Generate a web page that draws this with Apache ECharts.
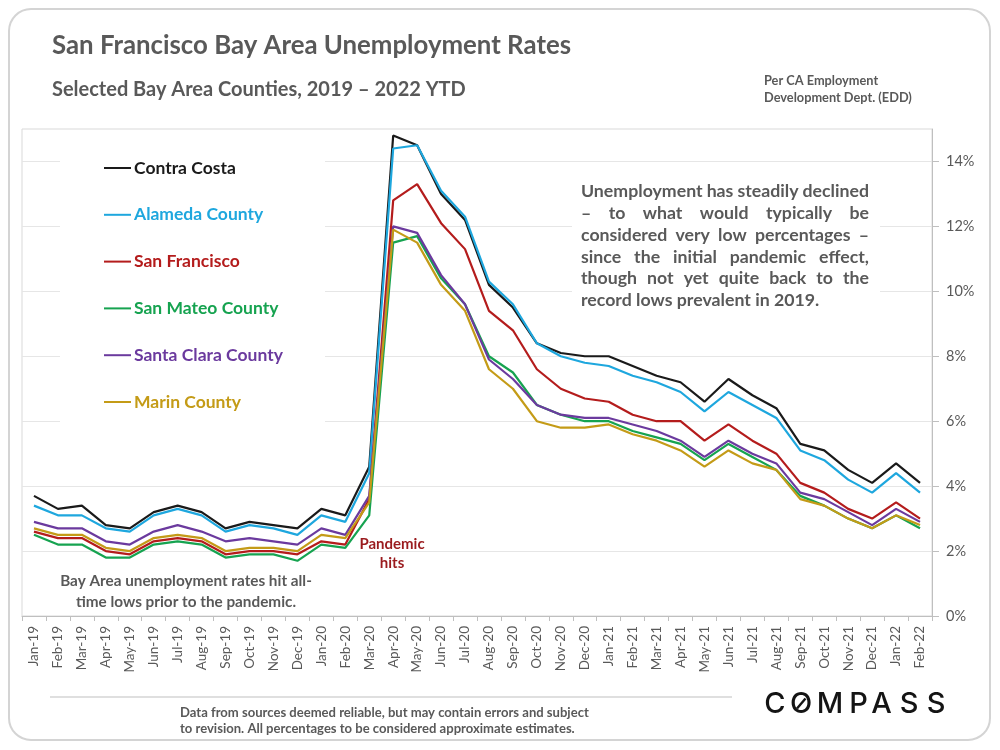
<!DOCTYPE html>
<html>
<head>
<meta charset="utf-8">
<script src="https://cdn.jsdelivr.net/npm/echarts@6/dist/echarts.min.js"></script>
<style>
html,body{margin:0;padding:0;background:#fff;}
#chart{width:1000px;height:750px;}
</style>
</head>
<body>
<div id="chart"></div>
<script>
const months = ['Jan-19','Feb-19','Mar-19','Apr-19','May-19','Jun-19','Jul-19','Aug-19','Sep-19','Oct-19','Nov-19','Dec-19',
'Jan-20','Feb-20','Mar-20','Apr-20','May-20','Jun-20','Jul-20','Aug-20','Sep-20','Oct-20','Nov-20','Dec-20',
'Jan-21','Feb-21','Mar-21','Apr-21','May-21','Jun-21','Jul-21','Aug-21','Sep-21','Oct-21','Nov-21','Dec-21',
'Jan-22','Feb-22'];

const contraCosta = [3.7,3.3,3.4,2.8,2.7,3.2,3.4,3.2,2.7,2.9,2.8,2.7, 3.3,3.1,4.6,14.8,14.5,13.0,12.2,10.2,9.5,8.4,8.1,8.0, 8.0,7.7,7.4,7.2,6.6,7.3,6.8,6.4,5.3,5.1,4.5,4.1, 4.7,4.1];
const alameda     = [3.4,3.1,3.1,2.7,2.6,3.1,3.3,3.1,2.6,2.8,2.7,2.5, 3.1,2.9,4.4,14.4,14.5,13.1,12.3,10.3,9.6,8.4,8.0,7.8, 7.7,7.4,7.2,6.9,6.3,6.9,6.5,6.1,5.1,4.8,4.2,3.8, 4.4,3.8];
const sanFrancisco= [2.6,2.4,2.4,2.0,1.9,2.3,2.4,2.3,1.9,2.0,2.0,1.9, 2.3,2.2,3.6,12.8,13.3,12.1,11.3,9.4,8.8,7.6,7.0,6.7, 6.6,6.2,6.0,6.0,5.4,5.9,5.4,5.0,4.1,3.8,3.3,3.0, 3.5,3.0];
const sanMateo    = [2.5,2.2,2.2,1.8,1.8,2.2,2.3,2.2,1.8,1.9,1.9,1.7, 2.2,2.1,3.1,11.5,11.7,10.4,9.6,8.0,7.5,6.5,6.2,6.0, 6.0,5.7,5.5,5.3,4.8,5.3,4.9,4.5,3.7,3.4,3.0,2.7, 3.1,2.7];
const santaClara  = [2.9,2.7,2.7,2.3,2.2,2.6,2.8,2.6,2.3,2.4,2.3,2.2, 2.7,2.5,3.7,12.0,11.8,10.5,9.6,7.9,7.3,6.5,6.2,6.1, 6.1,5.9,5.7,5.4,4.9,5.4,5.0,4.7,3.8,3.6,3.2,2.8, 3.3,2.9];
const marin       = [2.7,2.5,2.5,2.1,2.0,2.4,2.5,2.4,2.0,2.1,2.1,2.0, 2.5,2.4,3.5,11.9,11.5,10.2,9.4,7.6,7.0,6.0,5.8,5.8, 5.9,5.6,5.4,5.1,4.6,5.1,4.7,4.5,3.6,3.4,3.0,2.7, 3.1,2.8];

const seriesNames = ['Contra Costa','Alameda County','San Francisco','San Mateo County','Santa Clara County','Marin County'];
const seriesData = [contraCosta, alameda, sanFrancisco, sanMateo, santaClara, marin];
const seriesColors = ['#1a1a1a','#1ea7de','#b41c1c','#16a350','#6b3a9e','#c49b17'];
const yTicks = [0,2,4,6,8,10,12,14];

const FONT = 'Lato, "Open Sans", sans-serif';
const GREY = '#595959';

const mctx = document.createElement('canvas').getContext('2d');
function measure(text, size, weight){ mctx.font = weight + ' ' + size + 'px ' + FONT; return mctx.measureText(text).width; }
function fit(text, weight, target){ const w = measure(text, 100, weight); return 100 * target / w; }

const graphics = [];
// outer card
graphics.push({type:'rect', shape:{x:9,y:9,width:981,height:731,r:22}, style:{fill:'none',stroke:'#d4d4d4',lineWidth:2}, z:0, silent:true});
// white boxes behind legend and annotation
graphics.push({type:'rect', shape:{x:60,y:135,width:265,height:315}, style:{fill:'#fff'}, z:1, silent:true});
graphics.push({type:'rect', shape:{x:572,y:172,width:308,height:146}, style:{fill:'#fff'}, z:1, silent:true});

function addText(text, x, y, size, weight, color, align){
  graphics.push({type:'text', z:10, silent:true, style:{text:text, x:x, y:y, font: weight+' '+size.toFixed(2)+'px '+FONT, fill:color, textAlign:align||'left', textVerticalAlign:'middle'}});
}
// titles
addText('San Francisco Bay Area Unemployment Rates', 52, 46, fit('San Francisco Bay Area Unemployment Rates','bold',519), 'bold', GREY);
addText('Selected Bay Area Counties, 2019 \u2013 2022 YTD', 52, 90, fit('Selected Bay Area Counties, 2019 \u2013 2022 YTD','bold',414), 'bold', GREY);
const perSize = fit('Development Dept. (EDD)','bold',148);
addText('Per CA Employment', 764, 81, perSize, 'bold', GREY);
addText('Development Dept. (EDD)', 764, 98, perSize, 'bold', GREY);

// annotation (justified)
const annLines = ['Unemployment has steadily declined','\u2013 to what would typically be','considered very low percentages \u2013','since the initial pandemic effect,','though not yet quite back to the','record lows prevalent in 2019.'];
const annSize = fit('Unemployment has steadily declined','bold',289) ;
const annLeft = 581, annRight = 869, annTop = 191.7, annLH = 21.75;
annLines.forEach(function(line, i){
  const y = annTop + i*annLH;
  const words = line.split(' ');
  if (i === annLines.length-1){ addText(line, annLeft, y, annSize, 'bold', GREY); return; }
  const widths = words.map(function(w){return measure(w, annSize, 'bold');});
  const tot = widths.reduce(function(a,b){return a+b;},0);
  const gap = (annRight - annLeft - tot)/(words.length-1);
  let x = annLeft;
  words.forEach(function(w, j){ addText(w, x, y, annSize, 'bold', GREY); x += widths[j] + gap; });
});

// pandemic hits
addText('Pandemic', 392, 544, 15, 'bold', '#9a1b1e', 'center');
addText('hits', 392, 563, 15, 'bold', '#9a1b1e', 'center');
// bay area note
const noteSize = fit('Bay Area unemployment rates hit all-','bold',252);
addText('Bay Area unemployment rates hit all-', 186, 581, noteSize, 'bold', GREY, 'center');
addText('time lows prior to the pandemic.', 186, 602, noteSize, 'bold', GREY, 'center');

// footer
graphics.push({type:'line', shape:{x1:50,y1:697,x2:732,y2:697}, style:{stroke:'#bfbfbf',lineWidth:1.2}, z:5, silent:true});
const footSize = fit('Data from sources deemed reliable, but may contain errors and subject','bold',409);
addText('Data from sources deemed reliable, but may contain errors and subject', 180, 713, footSize, 'bold', GREY);
addText('to revision. All percentages to be considered approximate estimates.', 180, 729, footSize, 'bold', GREY);

// logo
const logoLetters = ['C','O','M','P','A','S','S'];
const logoX = [775, 801, 830, 858.5, 881.5, 909, 936];
logoLetters.forEach(function(l, i){
  graphics.push({type:'text', z:10, silent:true, style:{text:l, x:logoX[i], y:704, font:'500 29px Inter, Lato, sans-serif', fill:'#141414', textAlign:'center', textVerticalAlign:'middle'}});
});
graphics.push({type:'line', shape:{x1:797,y1:708.5,x2:805.5,y2:698.5}, style:{stroke:'#141414',lineWidth:2.4}, z:11, silent:true});

const option = {
  animation:false,
  backgroundColor:'#fff',
  grid:{left:22,right:68,top:129,bottom:134,show:true,borderColor:'#d9d9d9',borderWidth:1,containLabel:false},
  legend:{
    orient:'vertical', left:104, top:158, padding:0, icon:'rect', itemWidth:27, itemHeight:2, itemGap:26.8,
    selectedMode:false,
    textStyle:{fontFamily:FONT,fontWeight:'bold',fontSize:17.5,lineHeight:20,padding:[0,0,0,-2]},
    data: seriesNames.map(function(n,i){return {name:n, textStyle:{color:seriesColors[i]}};})
  },
  xAxis:{
    type:'category', data:months, boundaryGap:true,
    axisLine:{lineStyle:{color:'#bfbfbf',width:1}},
    axisTick:{show:true,interval:0,length:5,lineStyle:{color:'#bfbfbf'}},
    axisLabel:{interval:0,rotate:90,margin:10,fontFamily:FONT,fontSize:13.5,color:GREY},
    splitLine:{show:false}
  },
  yAxis:{
    type:'value', position:'right', min:0, max:15, interval:2,
    axisLine:{show:true,lineStyle:{color:'#bfbfbf',width:1}},
    axisTick:{show:true,inside:false,length:7,lineStyle:{color:'#bfbfbf'},customValues:yTicks},
    axisLabel:{margin:14,fontFamily:FONT,fontSize:14.5,color:GREY,customValues:yTicks,
      formatter:function(v){ return v>14 ? '' : v+'%'; }},
    splitLine:{show:true,lineStyle:{color:'#e6e6e6',width:1}}
  },
  series: seriesNames.map(function(n,i){
    return {name:n,type:'line',data:seriesData[i],symbol:'none',showSymbol:false,
      lineStyle:{color:seriesColors[i],width:2.2},itemStyle:{color:seriesColors[i]},z:3+i};
  }),
  graphic:{elements:graphics}
};

const chart = echarts.init(document.getElementById('chart'), null, {renderer:'canvas'});
chart.setOption(option);
</script>
</body>
</html>
